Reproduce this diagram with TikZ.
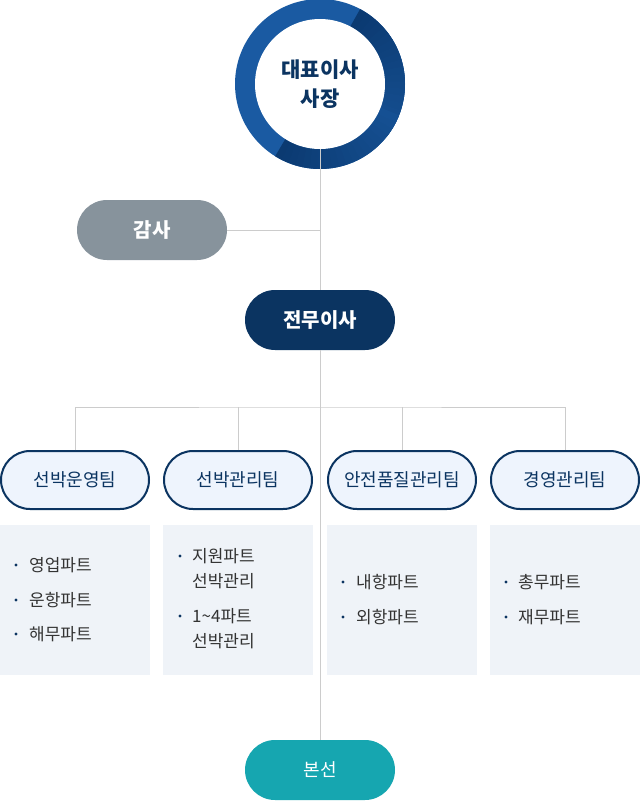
\documentclass[tikz,border=0pt]{standalone}
\usepackage{fontspec}
\setmainfont{Noto Sans CJK KR}
\definecolor{ringblue}{HTML}{1A5AA2}
\definecolor{ringdark}{HTML}{0B3A71}
\definecolor{navy}{HTML}{0B3461}
\definecolor{auditgray}{HTML}{87939C}
\definecolor{teal}{HTML}{16A6B0}
\definecolor{teamfill}{HTML}{EEF4FD}
\definecolor{listfill}{HTML}{EFF3F8}
\definecolor{linegray}{HTML}{CCCCCC}
\definecolor{itemtext}{HTML}{333333}
\begin{document}
\begin{tikzpicture}[x=1pt, y=-1pt,
    pill/.style={rounded corners=30pt, minimum width=150pt, minimum height=60pt,
      inner sep=0pt, font=\fontsize{20}{24}\selectfont\bfseries, text=white},
    team/.style={pill, draw=navy, line width=2pt, fill=teamfill, text=navy,
      minimum width=148pt, minimum height=58pt, rounded corners=29pt,
      font=\fontsize{18}{22}\selectfont},
    listbox/.style={fill=listfill, minimum width=150pt, minimum height=150pt, inner sep=0pt},
    item/.style={anchor=west, inner sep=0pt, text=itemtext,
      font=\fontsize{17}{25}\selectfont, align=left},
    dot/.style={circle, fill=navy, inner sep=0pt, minimum size=3.2pt},
    link/.style={draw=linegray, line width=1pt}]
  \useasboundingbox (0,0) rectangle (640,807);
  % CEO ring
  \fill[ringblue] (320,84) circle (85);
  \draw[line width=20pt, ringdark!32!ringblue] (320,84) ++(40:75) arc (40:-40:75);
  \foreach \i in {0,...,19} {
    \pgfmathsetmacro\p{100-3.6*\i}
    \pgfmathsetmacro\a{62-5*\i}
    \draw[line width=20pt, ringdark!\p!ringblue] (320,84) ++(-\a:75) arc (-\a:-\a+5.6:75);
  }
  \foreach \i in {0,...,19} {
    \pgfmathsetmacro\p{100-3.6*\i}
    \pgfmathsetmacro\a{238+5*\i}
    \draw[line width=20pt, ringdark!\p!ringblue] (320,84) ++(-\a:75) arc (-\a:-\a-5.6:75);
  }
  \node[circle, fill=white, minimum size=130pt, inner sep=0pt, text=navy,
    font=\fontsize{21}{29}\selectfont\bfseries, align=center] (ceo) at (320,84) {대표이사\\사장};
  \node[pill, fill=auditgray] (audit) at (152,230) {감사};
  \node[pill, fill=navy] (exec) at (320,320) {전무이사};
  \node[pill, fill=teal, font=\fontsize{18}{22}\selectfont] (ship) at (320,770) {본선};
  \coordinate (bus) at (320,407);
  \coordinate (auditjoin) at (320,230);
  % teams
  \node[team] (ops) at (75,480) {선박운영팀};
  \node[team] (mgmt) at (238,480) {선박관리팀};
  \node[team] (safety) at (402,480) {안전품질관리팀};
  \node[team] (admin) at (565,480) {경영관리팀};
  % links
  \draw[link] (audit.east) -- (auditjoin);
  \draw[link] (ops.north) |- (bus) -| (admin.north);
  \draw[link] (mgmt.north) -- (mgmt.north |- bus);
  \draw[link] (safety.north) -- (safety.north |- bus);
  % lists
  \node[listbox] (opslist) at (75,600) {};
  \node[listbox] (mgmtlist) at (238,600) {};
  \node[listbox] (safetylist) at (402,600) {};
  \node[listbox] (adminlist) at (565,600) {};
  \node[dot] at (16,565) {}; \node[item] (op1) at (29,565) {영업파트};
  \node[dot] at (16,600) {}; \node[item] (op2) at (29,600) {운항파트};
  \node[dot] at (16,634) {}; \node[item] (op3) at (29,634) {해무파트};
  \node[dot] at (180,556) {}; \node[item] (mg1) at (192,568.5) {지원파트\\선박관리};
  \node[dot] at (180,616) {}; \node[item] (mg2) at (192,628.5) {1\textasciitilde4파트\\선박관리};
  \node[dot] at (343,582) {}; \node[item] (sf1) at (356,582) {내항파트};
  \node[dot] at (343,617) {}; \node[item] (sf2) at (356,617) {외항파트};
  \node[dot] at (506,582) {}; \node[item] (ad1) at (518,582) {총무파트};
  \node[dot] at (506,617) {}; \node[item] (ad2) at (518,617) {재무파트};
  % spine
  \draw[link] (ceo.south) -- (exec.north);
  \draw[link] (exec.south) -- (ship.north);
\end{tikzpicture}
\end{document}
